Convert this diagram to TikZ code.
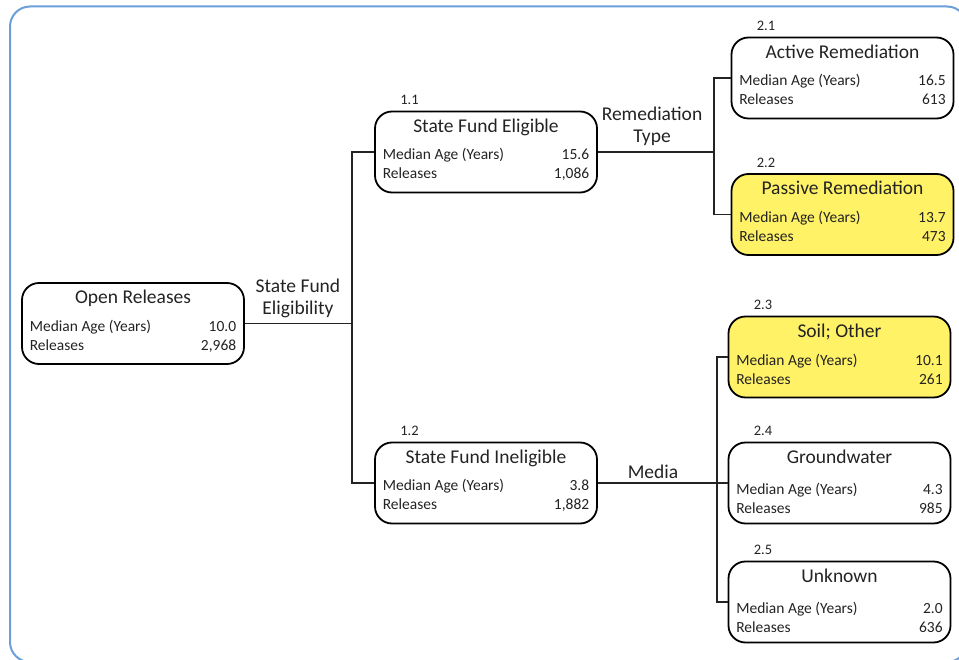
\documentclass[tikz,border=0pt]{standalone}
\usepackage{fontspec}
\setmainfont{Carlito}
\usetikzlibrary{positioning}

\definecolor{frameblue}{HTML}{6A9FDA}
\definecolor{passyellow}{HTML}{FFF266}
\definecolor{inkgray}{HTML}{232323}

\tikzset{
  relbox/.style={draw=black, line width=1.8pt, rounded corners=17pt,
    minimum width=222pt, minimum height=81pt, inner sep=0pt},
  hilite/.style={fill=passyellow},
  boxtitle/.style={inner sep=0pt, font=\fontsize{19.5}{22}\selectfont, text=inkgray},
  boxrow/.style={inner sep=0pt, font=\fontsize{15.5}{18}\selectfont, text=inkgray},
  numlbl/.style={inner sep=0pt, font=\fontsize{14.5}{16}\selectfont, text=inkgray},
  splitlbl/.style={inner sep=0pt, align=center, font=\fontsize{19.5}{22}\selectfont, text=inkgray},
  branch/.style={draw=inkgray, line width=1.5pt},
}

% #1 name, #2 centre, #3 style, #4 number, #5 title, #6 age, #7 releases, #8 row offset
\newcommand{\relbox}[8]{%
  \node[relbox,#3] (#1) at (#2) {};
  \node[numlbl, anchor=base west] (#1-n) at ([shift={(26,-6)}]#1.north west) {#4};
  \node[boxtitle, anchor=base] (#1-t) at ([shift={(0,21.5)}]#1.north) {#5};
  \node[boxrow, anchor=base west] (#1-a) at ([shift={(8.5,#8)}]#1.north west) {Median Age (Years)};
  \node[boxrow, anchor=base east] (#1-v) at ([shift={(-8.5,#8)}]#1.north east) {#6};
  \node[boxrow, anchor=base west] (#1-r) at ([shift={(8.5,#8+19)}]#1.north west) {Releases};
  \node[boxrow, anchor=base east] (#1-c) at ([shift={(-8.5,#8+19)}]#1.north east) {#7};
}

\begin{document}
\begin{tikzpicture}[x=1pt, y=-1pt]
  \useasboundingbox (0,0) rectangle (959,660);

  % Outer frame
  \draw[frameblue, line width=2pt, rounded corners=20pt] (10,6.5) rectangle (967,662);

  % Root
  \relbox{open}{133,323.5}{}{}{Open Releases}{10.0}{2,968}{49}

  % First split
  \relbox{sfe}{486,152}{}{1.1}{State Fund Eligible}{15.6}{1,086}{49}
  \relbox{sfi}{486,483}{}{1.2}{State Fund Ineligible}{3.8}{1,882}{49}

  % Second split, remediation type
  \relbox{act}{842.5,78}{}{2.1}{Active Remediation}{16.5}{613}{49}
  \relbox{pas}{842.5,214.5}{hilite}{2.2}{Passive Remediation}{13.7}{473}{49}

  % Second split, media
  \relbox{soil}{839.5,357}{hilite}{2.3}{Soil; Other}{10.1}{261}{50}
  \relbox{gw}{839.5,483}{}{2.4}{Groundwater}{4.3}{985}{53}
  \relbox{unk}{839.5,602}{}{2.5}{Unknown}{2.0}{636}{53}

  % Split labels
  \node[splitlbl, anchor=base] (lbl-elig) at (298,315) {State Fund\\Eligibility};
  \node[splitlbl, anchor=base] (lbl-type) at (652,143) {Remediation\\Type};
  \node[splitlbl, anchor=base] (lbl-media) at (653,478) {Media};

  % Junctions
  \coordinate (j1) at (352,323.5);
  \coordinate (j2) at (714,152);
  \coordinate (j3) at (717,483);

  % Connectors
  \draw[branch] (open.east) -- (j1);
  \draw[branch] (sfe.west) -| (j1) |- (sfi.west);
  \draw[branch] (sfe.east) -- (j2);
  \draw[branch] (act.west) -| (j2) |- (pas.west);
  \draw[branch] (sfi.east) -- (j3);
  \draw[branch] (soil.west) -| (j3) |- (unk.west);
  \draw[branch] (j3) -- (gw.west);
\end{tikzpicture}
\end{document}
